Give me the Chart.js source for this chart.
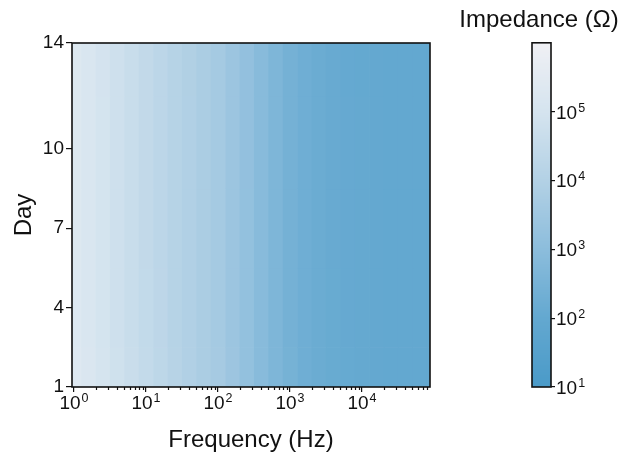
<!DOCTYPE html>
<html>
<head>
<meta charset="utf-8">
<script src="https://cdn.jsdelivr.net/npm/chart.js@4.4.1/dist/chart.umd.min.js"></script>
<style>
  body { margin: 0; background: #fff; }
  #wrap { position: relative; width: 628px; height: 460px; }
  #heat { position: absolute; left: 0; top: 0; }
  #bar { position: absolute; left: 450px; top: 0; }
</style>
</head>
<body>
<div id="wrap">
  <canvas id="heat" width="628" height="460"></canvas>
  <canvas id="bar" width="178" height="460"></canvas>
</div>
<script>
// measurement grid
var frequencies = [1, 1.6, 2.5, 4, 6.3, 10, 16, 25, 40, 63, 100, 160, 250, 400, 630,
                   1000, 1600, 2500, 4000, 6300, 10000, 16000, 25000, 40000, 63000, 100000];
var days = [1, 4, 7, 10, 14];

// impedance magnitude (ohm) per day, same order as frequencies
var zDay1  = [215000, 150000, 101000, 66500, 43500, 29200, 19700, 12900, 9100, 6400, 4520, 2650, 1520, 800, 450, 284, 201, 159, 133, 118, 110, 105, 102, 100, 98, 97];
var zDay4  = [200000, 141000, 95500, 63100, 41700, 28200, 19100, 12600, 8900, 6300, 4470, 2630, 1510, 794, 447, 282, 200, 158, 132, 117, 110, 105, 102, 100, 98, 97];
var zDay7  = [198000, 140000, 95000, 62800, 41500, 28000, 19000, 12500, 8850, 6250, 4450, 2620, 1500, 790, 445, 281, 199, 157, 131, 116, 109, 104, 101, 99, 97, 96];
var zDay10 = [197000, 139000, 94500, 62500, 41300, 27900, 18900, 12450, 8800, 6230, 4430, 2610, 1495, 788, 444, 280, 198, 157, 131, 116, 109, 104, 101, 99, 97, 96];
var zDay14 = [196000, 139000, 94000, 62300, 41200, 27800, 18850, 12400, 8780, 6200, 4420, 2600, 1490, 786, 443, 279, 198, 156, 130, 115, 108, 103, 100, 98, 97, 96];
var zByDay = [zDay1, zDay4, zDay7, zDay10, zDay14];

// axis ticks
var dayTicks = [1, 4, 7, 10, 14];
var freqDecades = [1, 10, 100, 1000, 10000];
var freqExps = ['0', '1', '2', '3', '4'];
var zDecades = [10, 100, 1000, 10000, 100000];
var zExps = ['1', '2', '3', '4', '5'];

// colour map: log10(ohm) -> rgb
var cmapStops = [
  [1, [74, 154, 200]],
  [2, [99, 168, 208]],
  [3, [140, 189, 220]],
  [4, [179, 209, 229]],
  [5, [213, 228, 239]],
  [6, [240, 240, 244]]
];
function cmap(logz) {
  if (logz <= cmapStops[0][0]) logz = cmapStops[0][0];
  for (var i = 1; i < cmapStops.length; i++) {
    if (logz <= cmapStops[i][0] || i == cmapStops.length - 1) {
      var a = cmapStops[i - 1], b = cmapStops[i];
      var t = Math.min(1, (logz - a[0]) / (b[0] - a[0]));
      var c = a[1].map(function (v, k) { return Math.round(v + (b[1][k] - v) * t); });
      return 'rgb(' + c.join(',') + ')';
    }
  }
}

var FONT = '"Liberation Sans", Arial, sans-serif';
var INK = '#111';

// "10" with a raised exponent, drawn at (x, baseline); align 'center' or 'left'
function drawPow(ctx, x, y, exp, align) {
  ctx.font = '19px ' + FONT;
  var wBase = ctx.measureText('10').width;
  ctx.font = '12.5px ' + FONT;
  var wExp = ctx.measureText(exp).width;
  var x0 = align == 'center' ? x - (wBase + wExp + 1) / 2 : x;
  ctx.fillStyle = INK;
  ctx.textAlign = 'left';
  ctx.textBaseline = 'alphabetic';
  ctx.font = '19px ' + FONT;
  ctx.fillText('10', x0, y);
  ctx.font = '12.5px ' + FONT;
  ctx.fillText(exp, x0 + wBase + 1, y - 7);
}

// minor log ticks 2..9 of each decade
var freqMinor = [];
freqDecades.forEach(function (d) {
  for (var m = 2; m <= 9; m++) if (d * m < 88000) freqMinor.push(d * m);
});

var datasets = days.map(function (d, i) {
  return {
    label: 'Day ' + d,
    data: frequencies.map(function (f, j) { return { x: f, y: d, z: zByDay[i][j] }; }),
    pointRadius: 0,
    showLine: false
  };
});

var heatCells = {
  id: 'heatCells',
  beforeDatasetsDraw: function (chart) {
    var ctx = chart.ctx, a = chart.chartArea;
    var xs = chart.scales.x, ys = chart.scales.y;
    ctx.save();
    ctx.beginPath();
    ctx.rect(a.left, a.top, a.right - a.left, a.bottom - a.top);
    ctx.clip();
    chart.data.datasets.forEach(function (ds, i) {
      var d = days[i];
      var lo = i == 0 ? d - (days[1] - d) / 2 : (days[i - 1] + d) / 2;
      var hi = i == days.length - 1 ? d + (d - days[i - 1]) / 2 : (days[i + 1] + d) / 2;
      var yTop = ys.getPixelForValue(hi), yBot = ys.getPixelForValue(lo);
      ds.data.forEach(function (p, j) {
        var f = p.x;
        var fl = j == 0 ? f * f / frequencies[1] : Math.sqrt(frequencies[j - 1] * f);
        var fh = j == frequencies.length - 1 ? f * f / frequencies[j - 1] : Math.sqrt(frequencies[j + 1] * f);
        var x0 = xs.getPixelForValue(fl), x1 = xs.getPixelForValue(fh);
        ctx.fillStyle = cmap(Math.log10(p.z));
        ctx.fillRect(x0, yTop, x1 - x0 + 0.6, yBot - yTop + 0.6);
      });
    });
    ctx.restore();
  },
  afterDraw: function (chart) {
    var ctx = chart.ctx, a = chart.chartArea, xs = chart.scales.x;
    ctx.save();
    ctx.strokeStyle = INK;
    ctx.lineWidth = 1.2;
    freqMinor.forEach(function (f) {
      var x = Math.round(xs.getPixelForValue(f)) + 0.5;
      ctx.beginPath();
      ctx.moveTo(x, a.bottom);
      ctx.lineTo(x, a.bottom + 3);
      ctx.stroke();
    });
    ctx.lineWidth = 1.6;
    ctx.strokeRect(a.left, a.top, a.right - a.left, a.bottom - a.top);
    freqDecades.forEach(function (v, i) {
      drawPow(ctx, xs.getPixelForValue(v), a.bottom + 22, freqExps[i], 'center');
    });
    ctx.restore();
  }
};

new Chart(document.getElementById('heat'), {
  type: 'scatter',
  data: { datasets: datasets },
  options: {
    responsive: false,
    animation: false,
    layout: { padding: { top: 43, right: 198, bottom: 0, left: 0 } },
    plugins: { legend: { display: false }, tooltip: { enabled: false } },
    scales: {
      x: {
        type: 'logarithmic',
        min: 0.94,
        max: 88000,
        afterBuildTicks: function (s) {
          s.ticks = freqDecades.map(function (v) { return { value: v, major: true }; });
        },
        afterFit: function (s) { s.height = 73; },
        grid: { drawOnChartArea: false, tickLength: 5, tickColor: INK, lineWidth: 1.2 },
        border: { display: false },
        ticks: { autoSkip: false, maxRotation: 0, callback: function () { return ''; } },
        title: {
          display: true, text: 'Frequency (Hz)', color: INK,
          font: { family: FONT, size: 24 }, padding: { top: 0, bottom: 5 }
        }
      },
      y: {
        type: 'linear',
        min: 1,
        max: 14,
        afterBuildTicks: function (s) {
          s.ticks = dayTicks.map(function (v) { return { value: v }; });
        },
        afterFit: function (s) { s.width = 72; },
        grid: { drawOnChartArea: false, tickLength: 6, tickColor: INK, lineWidth: 1.2 },
        border: { display: false },
        ticks: { padding: 2, color: INK, font: { family: FONT, size: 19 } },
        title: {
          display: true, text: 'Day', color: INK,
          font: { family: FONT, size: 24 }, padding: { top: 10, bottom: 0 }
        }
      }
    }
  },
  plugins: [heatCells]
});

// colour bar drawn through its own log scale
var barFill = {
  id: 'barFill',
  beforeDatasetsDraw: function (chart) {
    var ctx = chart.ctx, a = chart.chartArea, ys = chart.scales.y;
    ctx.save();
    for (var y = Math.floor(a.top); y < a.bottom; y++) {
      ctx.fillStyle = cmap(Math.log10(ys.getValueForPixel(y + 0.5)));
      ctx.fillRect(a.left, y, a.right - a.left, 1);
    }
    ctx.lineWidth = 1.6;
    ctx.strokeStyle = INK;
    ctx.strokeRect(a.left, a.top, a.right - a.left, a.bottom - a.top);
    ctx.restore();
  },
  afterDraw: function (chart) {
    var ctx = chart.ctx, a = chart.chartArea, ys = chart.scales.y;
    ctx.save();
    zDecades.forEach(function (v, i) {
      drawPow(ctx, a.right + 5, ys.getPixelForValue(v) + 7, zExps[i], 'left');
    });
    ctx.restore();
  }
};

new Chart(document.getElementById('bar'), {
  type: 'scatter',
  data: { datasets: [{ data: [], pointRadius: 0 }] },
  options: {
    responsive: false,
    animation: false,
    layout: { padding: { top: 0, right: 0, bottom: 73, left: 0 } },
    plugins: {
      legend: { display: false },
      tooltip: { enabled: false },
      title: {
        display: true, text: 'Impedance (\u03A9)', color: INK,
        font: { family: FONT, size: 24, weight: 'normal' }, padding: { top: 6, bottom: 8 }
      }
    },
    scales: {
      x: { display: false, min: 0, max: 1 },
      pad: {
        type: 'linear', position: 'left', display: true,
        grid: { display: false }, border: { display: false }, ticks: { display: false },
        afterFit: function (s) { s.width = 82; }
      },
      y: {
        type: 'logarithmic',
        position: 'right',
        min: 10,
        max: 1000000,
        afterBuildTicks: function (s) {
          s.ticks = zDecades.map(function (v) { return { value: v, major: true }; });
        },
        afterFit: function (s) { s.width = 77; },
        grid: { drawOnChartArea: false, tickLength: 4, tickColor: INK, lineWidth: 1.2 },
        border: { display: false },
        ticks: { autoSkip: false, callback: function () { return ''; } }
      }
    }
  },
  plugins: [barFill]
});
</script>
</body>
</html>
